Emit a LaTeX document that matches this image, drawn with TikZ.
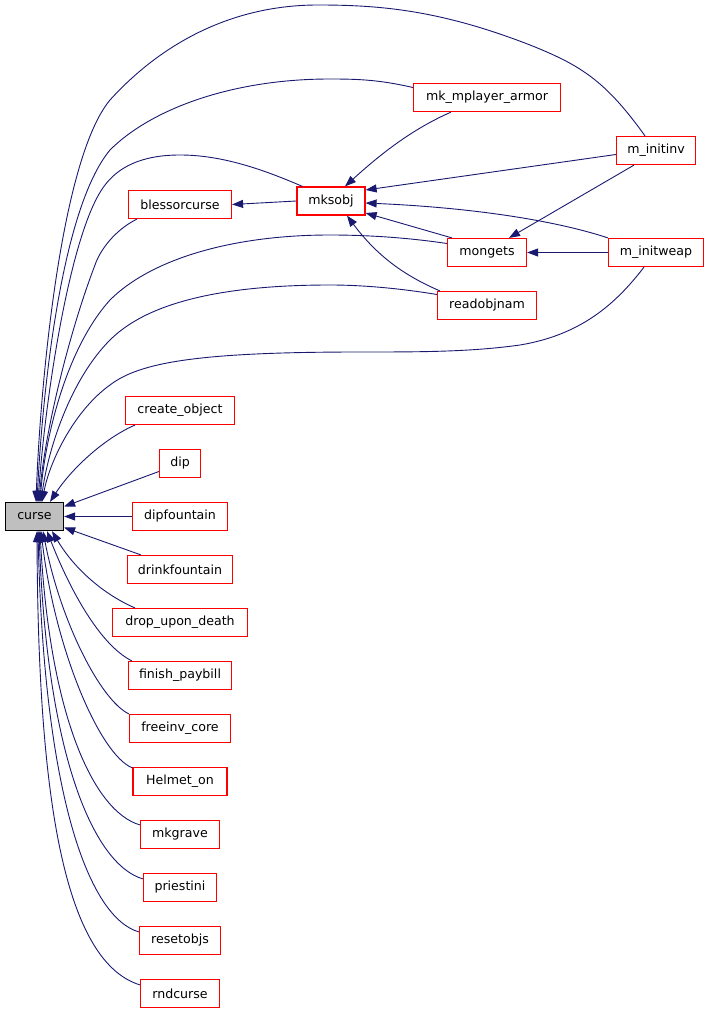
\documentclass[tikz,border=0pt]{standalone}
\usepackage{fontspec}
\setmainfont{DejaVu Sans}
\usepackage{xcolor}
\usepackage{tikz}
\usetikzlibrary{arrows.meta,positioning}
\definecolor{edgeblue}{HTML}{191970}
\definecolor{boxred}{HTML}{FF0000}
\definecolor{rootgray}{HTML}{BFBFBF}

\begin{document}
\begin{tikzpicture}[
    x=1pt, y=-1pt,
    node distance=23.8pt,
    box/.style={draw, color=boxred, text=black, fill=white, line width=1.2pt, minimum width=#1, minimum height=28pt, inner sep=0pt, font=\fontsize{12.6}{14}\selectfont},
    rootbox/.style={box=58pt, color=black, fill=rootgray},
    arrow/.style={-{Triangle[length=11pt,width=8pt]}, line width=0.9pt, color=edgeblue}
]
    \useasboundingbox (0,0) rectangle (709,1016);

    \node[rootbox] (curse) at (34.5,516.5) {curse};
    \node[box=147pt] (mkarmor) at (487,97.5) {mk\_mplayer\_armor};
    \node[box=79pt] (minitinv) at (656,150.5) {m\_initinv};
    \node[box=103pt] (blessorcurse) at (180,204.5) {blessorcurse};
    \node[box=68pt] (mksobj) at (331,201) {mksobj};
    \node[box=79pt] (mongets) at (487,252.5) {mongets};
    \node[box=95pt] (minitweap) at (656,252.5) {m\_initweap};
    \node[box=99pt, below=of mongets] (readobjnam) {readobjnam};
    \node[box=109pt] (createobj) at (180,410.5) {create\_object};
    \node[box=41pt, below=of createobj] (dip) {dip};
    \node[box=95pt, below=of dip] (dipfountain) {dipfountain};
    \node[box=105pt, below=of dipfountain] (drinkfountain) {drinkfountain};
    \node[box=135pt, below=of drinkfountain] (dropdeath) {drop\_upon\_death};
    \node[box=103pt, below=of dropdeath] (finishpaybill) {finish\_paybill};
    \node[box=101pt, below=of finishpaybill] (freeinvcore) {freeinv\_core};
    \node[box=94pt, below=of freeinvcore] (helmeton) {Helmet\_on};
    \node[box=79pt, below=of helmeton] (mkgrave) {mkgrave};
    \node[box=73pt, below=of mkgrave] (priestini) {priestini};
    \node[box=81pt, below=of priestini] (resetobjs) {resetobjs};
    \node[box=79pt, below=of resetobjs] (rndcurse) {rndcurse};

    % callers of mksobj and mongets
    \draw[arrow] (mksobj.west) -- (blessorcurse.east);
    \draw[arrow] ([xshift=-36pt]mkarmor.south) .. controls (415,128) and (385,150) .. ([xshift=14pt]mksobj.north);
    \draw[arrow] ([yshift=-4pt]minitinv.west) -- ([yshift=11pt]mksobj.east);
    \draw[arrow] (minitweap.north west) .. controls (560,222) and (480,208) .. ([yshift=-2pt]mksobj.east);
    \draw[arrow] ([xshift=5pt]mongets.north west) -- ([yshift=-12pt]mksobj.east);
    \draw[arrow] ([xshift=3pt]readobjnam.north west) .. controls (410,278) and (380,260) .. ([xshift=16pt]mksobj.south);
    \draw[arrow] ([xshift=-22pt]minitinv.south) -- ([xshift=22pt]mongets.north);
    \draw[arrow] (minitweap.west) -- (mongets.east);

    % callers of curse, upper part
    \draw[arrow] ([xshift=-11pt]minitinv.north) .. controls (605,80) and (580,65) .. (530,45)
        .. controls (440,10) and (380,5) .. (318,5) .. controls (230,5) and (160,45) .. (110,100)
        .. controls (60,160) and (40,390) .. ([xshift=1.5pt]curse.north);
    \draw[arrow] ([yshift=10pt]mkarmor.west) .. controls (380,80) and (360,79) .. (330,79)
        .. controls (230,79) and (150,110) .. (110,150) .. controls (60,210) and (42,400) .. ([xshift=2.5pt]curse.north);
    \draw[arrow] ([xshift=6pt]mksobj.north west) .. controls (260,168) and (220,155) .. (180,155)
        .. controls (140,155) and (118,168) .. (105,185) .. controls (70,230) and (45,400) .. ([xshift=3.5pt]curse.north);
    \draw[arrow] ([xshift=9pt]blessorcurse.south west) .. controls (115,230) and (100,250) .. (95,265)
        .. controls (70,330) and (45,430) .. ([xshift=4.5pt]curse.north);
    \draw[arrow] ([yshift=9pt]mongets.west) .. controls (410,238) and (370,235) .. (330,235)
        .. controls (230,235) and (150,260) .. (110,300) .. controls (65,350) and (45,440) .. ([xshift=5.5pt]curse.north);
    \draw[arrow] ([yshift=11pt]readobjnam.west) .. controls (410,290) and (370,285) .. (330,285)
        .. controls (230,285) and (150,300) .. (110,340) .. controls (70,380) and (48,450) .. ([xshift=6.5pt]curse.north);
    \draw[arrow] ([xshift=-12pt]minitweap.south) .. controls (615,305) and (580,335) .. (520,345)
        .. controls (470,352) and (420,352) .. (360,352) .. controls (200,352) and (140,362) .. (110,385)
        .. controls (75,410) and (50,460) .. ([xshift=7.5pt]curse.north);

    % callers of curse, lower part
    \draw[arrow] ([xshift=10pt]createobj.south west) .. controls (105,438) and (72,468) .. ([xshift=15.5pt]curse.north);
    \draw[arrow] ([yshift=-8pt]dip.west) -- ([yshift=10pt]curse.east);
    \draw[arrow] (dipfountain.west) -- (curse.east);
    \draw[arrow] ([xshift=14pt]drinkfountain.north west) -- ([yshift=-11pt]curse.east);
    \draw[arrow] ([xshift=23pt]dropdeath.north west) .. controls (105,595) and (75,570) .. ([xshift=17.5pt]curse.south);
    \draw[arrow] ([xshift=4pt]finishpaybill.north west) .. controls (100,645) and (70,590) .. ([xshift=12.5pt]curse.south);
    \draw[arrow] (freeinvcore.north west) .. controls (100,700) and (60,620) .. ([xshift=8.5pt]curse.south);
    \draw[arrow] ([yshift=-1pt]helmeton.north west) .. controls (100,755) and (55,650) .. ([xshift=6.5pt]curse.south);
    \draw[arrow] ([yshift=-5pt]mkgrave.north west) .. controls (95,812) and (50,720) .. ([xshift=5.5pt]curse.south);
    \draw[arrow] ([yshift=-6pt]priestini.north west) .. controls (95,865) and (47,760) .. ([xshift=4.5pt]curse.south);
    \draw[arrow] ([yshift=-6pt]resetobjs.north west) .. controls (90,918) and (44,800) .. ([xshift=3.5pt]curse.south);
    \draw[arrow] ([yshift=-6pt]rndcurse.north west) .. controls (60,960) and (38,780) .. ([xshift=2.5pt]curse.south);
\end{tikzpicture}
\end{document}
